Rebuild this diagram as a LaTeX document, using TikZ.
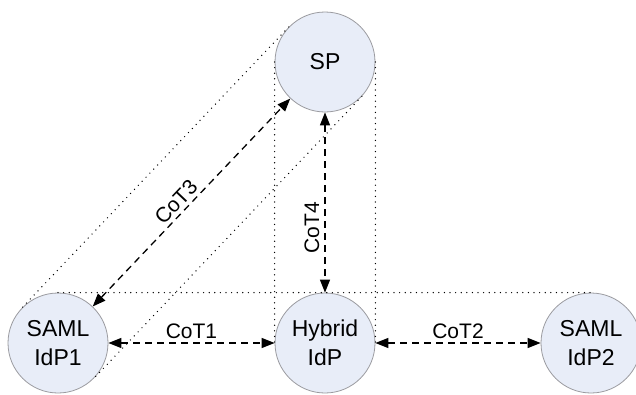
\documentclass[tikz,border=0pt]{standalone}
\usepackage{fontspec}
\setmainfont{Liberation Sans}
\usetikzlibrary{arrows.meta}

\definecolor{partyfill}{RGB}{232,237,248}
\definecolor{partyedge}{RGB}{155,155,160}

\tikzset{
  party/.style={circle, draw=partyedge, line width=0.8pt, fill=partyfill,
    minimum size=100pt, inner sep=0pt, align=center,
    font=\fontsize{23}{29.5}\selectfont},
  trust/.style={line width=1.3pt, dash pattern=on 7pt off 5pt,
    {Triangle[length=13pt,width=10pt]}-{Triangle[length=13pt,width=10pt]}},
  trustlabel/.style={font=\fontsize{21}{25}\selectfont, inner sep=3.5pt},
  hull/.style={line width=1.4pt, line cap=round, dash pattern=on 0pt off 5.6pt, black}
}

\begin{document}
\begin{tikzpicture}[x=1pt, y=-1pt]
  \useasboundingbox (0,0) rectangle (636,394);

  % parties
  \node[party] (sp)   at (325,62)  {SP};
  \node[party] (idp1) at (58,343)  {SAML\\IdP1};
  \node[party] (hyb)  at (325,343) {Hybrid\\IdP};
  \node[party] (idp2) at (591,343) {SAML\\IdP2};

  % dotted tangent lines around the circle groups
  \draw[hull] (sp.west) -- (hyb.west);
  \draw[hull] (sp.east) -- (hyb.east);
  \draw[hull] (idp1.north) -- (idp2.north);
  \draw[hull] (sp.136.46) -- (idp1.136.46);
  \draw[hull] (sp.-43.54) -- (idp1.-43.54);

  % circles of trust
  \draw[trust] (idp1) -- node[trustlabel, above] {CoT1} (hyb);
  \draw[trust] (hyb) -- node[trustlabel, above] {CoT2} (idp2);
  \draw[trust] (idp1) -- node[trustlabel, sloped, above, pos=0.464] {CoT3} (sp);
  \draw[trust] (sp) -- node[trustlabel, rotate=90, anchor=south, pos=0.64, inner sep=5pt] {CoT4} (hyb);
\end{tikzpicture}
\end{document}
